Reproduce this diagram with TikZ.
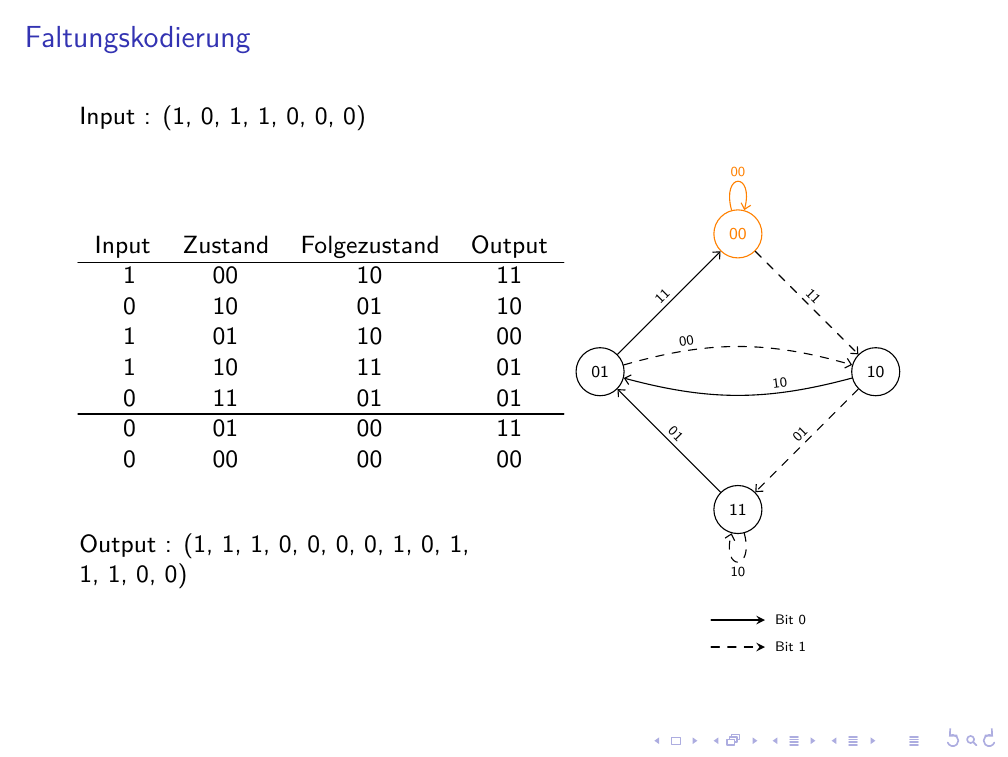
\documentclass[tikz,border=0pt]{standalone}
\usetikzlibrary{arrows.meta}
\definecolor{structure}{rgb}{0.2,0.2,0.7}
\definecolor{navsym}{rgb}{0.68,0.68,0.88}
\begin{document}
\begin{tikzpicture}[font=\sffamily\fontsize{9}{11}\selectfont, line join=round, line cap=round,
 >={Straight Barb[length=2pt, width=3.6pt]},
 txt/.style={inner sep=0pt},
 zustand/.style={circle, draw, minimum size=0.61cm, inner sep=0pt, font=\sffamily\fontsize{6}{7}\selectfont},
 lbl/.style={font=\sffamily\fontsize{5}{6}\selectfont, inner sep=1.5pt},
 legende/.style={font=\sffamily\fontsize{5}{6}\selectfont, inner sep=1pt}]
 \useasboundingbox (0,0) rectangle (12.8,9.6);
 % Titel und Input
 \node[txt, anchor=base west, text=structure, font=\sffamily\fontsize{11}{13}\selectfont] (titel) at (0.31,9.0) {Faltungskodierung};
 \node[txt, anchor=base west] (input) at (1,8.025) {Input : (1, 0, 1, 1, 0, 0, 0)};
 % Tabelle
 \foreach\name/\x in{Input/1.558,Zustand/2.87,Folgezustand/4.70,Output/6.467}{\node[txt, anchor=base] (kopf-\name) at (\x,6.387){\name};}
 \draw (0.99,6.267)--(7.16,6.267);
 \draw (0.99,4.343)--(7.16,4.343);
 \foreach\ein/\zu/\folge/\aus [count=\k] in{1/00/10/11,0/10/01/10,1/01/10/00,1/10/11/01,0/11/01/01,0/01/00/11,0/00/00/00}{
 \node[txt, anchor=base] (ein-\k) at (1.644,{6.387-0.3886*\k}){\ein};
 \node[txt, anchor=base] (zu-\k) at (2.862,{6.387-0.3886*\k}){\zu};
 \node[txt, anchor=base] (folge-\k) at (4.692,{6.387-0.3886*\k}){\folge};
 \node[txt, anchor=base] (aus-\k) at (6.467,{6.387-0.3886*\k}){\aus};
 }
 \node[txt, anchor=base west] (output) at (1,2.59) {Output : (1, 1, 1, 0, 0, 0, 0, 1, 0, 1,};
 \node[txt, anchor=base west] (output2) at (1,2.205) {1, 1, 0, 0)};
 % Zustandsdiagramm
 \node[zustand, draw=orange, text=orange] (s00) at (9.37,6.63) {00};
 \node[zustand] (s01) at (7.62,4.88) {01};
 \node[zustand] (s10) at (11.12,4.88) {10};
 \node[zustand] (s11) at (9.37,3.13) {11};
 \draw[->] (s01)--node[lbl, sloped, above]{11}(s00);
 \draw[->, dashed] (s00)--node[lbl, sloped, above]{11}(s10);
 \draw[->, dashed] (s01) to[bend left=16] node[lbl, sloped, above, pos=0.27]{00} (s10);
 \draw[->] (s10) to[bend left=15] node[lbl, sloped, above, pos=0.3]{10} (s01);
 \draw[->] (s11)--node[lbl, sloped, above]{01}(s01);
 \draw[->, dashed] (s10)--node[lbl, sloped, above]{01}(s11);
 \draw[->, orange] (s00) to[loop above] node[lbl, above]{00} (s00);
 \draw[->, dashed] (s11) to[loop below] node[lbl, below]{10} (s11);
 % Legende
 \coordinate (b0s) at (9.03,1.727); \coordinate (b0e) at (9.714,1.727);
 \coordinate (b1s) at (9.03,1.384); \coordinate (b1e) at (9.714,1.384);
 \draw[-stealth] (b0s)--(b0e);
 \draw[-stealth, dashed] (b1s)--(b1e);
 \node[legende, anchor=west] (bit0) at (9.8,1.727) {Bit 0};
 \node[legende, anchor=west] (bit1) at (9.8,1.384) {Bit 1};
 % Navigationssymbole
 \foreach\x in{8.339,9.092,9.841,10.590}{\fill[navsym] (\x-0.03,0.194)--(\x+0.03,0.236)--(\x+0.03,0.152)--cycle;}
 \foreach\x in{8.825,9.587,10.324,11.086}{\fill[navsym] (\x+0.03,0.194)--(\x-0.03,0.236)--(\x-0.03,0.152)--cycle;}
 \draw[navsym, line width=0.5pt] (8.527,0.149) rectangle (8.641,0.239);
 \draw[navsym, line width=0.5pt, fill=white] (9.29,0.21) rectangle (9.39,0.27);
 \draw[navsym, line width=0.5pt, fill=white] (9.26,0.18) rectangle (9.36,0.24);
 \draw[navsym, line width=0.5pt, fill=white] (9.23,0.14) rectangle (9.33,0.21);
 \foreach\x in{10.083,10.832,11.606}{\foreach\y in{0.14,0.175,0.21,0.245}{\draw[navsym, line width=0.6pt] (\x-0.05,\y)--(\x+0.05,\y);}}
 \draw[navsym, line width=0.6pt, <-] (12.05,0.245) arc (135:-160:0.07);
 \draw[navsym, line width=0.6pt] (12.325,0.21) circle (0.045) (12.357,0.178)--(12.40,0.135);
 \draw[navsym, line width=0.6pt, <-] (12.61,0.245) arc (45:340:0.07);
\end{tikzpicture}
\end{document}
